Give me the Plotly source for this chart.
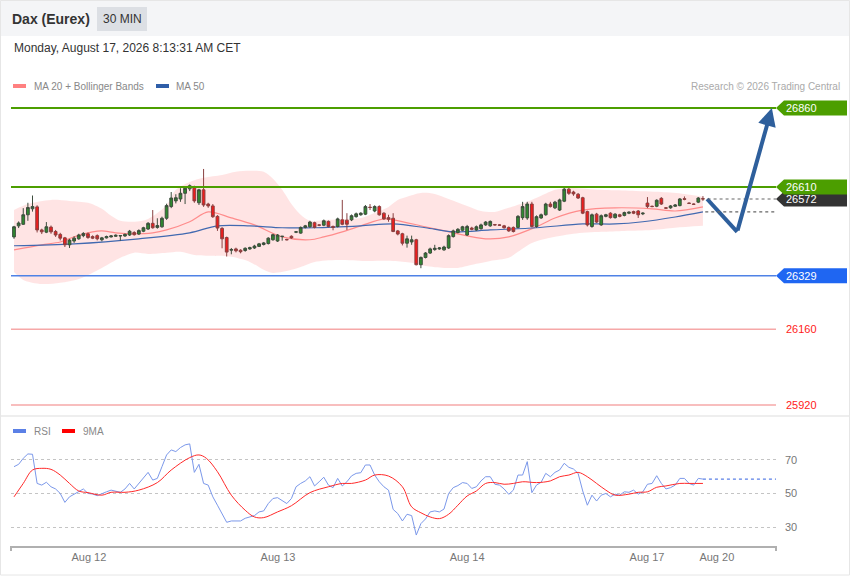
import plotly.graph_objects as go

# --- candles (30 min) ---
opens = [
    26452, 26487, 26492, 26522, 26541, 26547, 26474, 26467, 26483, 26469,
    26460, 26449, 26427, 26439, 26446, 26456, 26462, 26453, 26456, 26443,
    26449, 26452, 26454, 26455, 26455, 26458, 26466, 26461, 26470, 26477,
    26495, 26482, 26484, 26511, 26548, 26566, 26572, 26590, 26604, 26608,
    26560, 26601, 26556, 26550, 26517, 26479, 26450, 26410, 26414, 26410,
    26409, 26414, 26417, 26422, 26428, 26431, 26443, 26439, 26453, 26444,
    26454, 26467, 26464, 26482, 26484, 26497, 26490, 26489, 26501, 26485,
    26485, 26506, 26505, 26506, 26516, 26522, 26524, 26546, 26534, 26548,
    26527, 26513, 26511, 26471, 26462, 26432, 26436, 26443, 26364, 26387,
    26401, 26412, 26414, 26411, 26417, 26453, 26466, 26473, 26458, 26480,
    26474, 26478, 26490, 26487, 26491, 26490, 26487, 26482, 26482, 26482,
    26513, 26512, 26556, 26485, 26512, 26522, 26556, 26544, 26537, 26565,
    26603, 26594, 26587, 26576, 26532, 26485, 26524, 26490, 26517, 26527,
    26513, 26522, 26520, 26527, 26532, 26534, 26525, 26559, 26549, 26549,
    26574, 26544, 26544, 26549, 26551, 26573, 26559, 26556, 26562, 26573,
]
highs = [
    26487, 26501, 26543, 26560, 26583, 26552, 26478, 26499, 26488, 26474,
    26465, 26452, 26446, 26454, 26462, 26467, 26466, 26457, 26460, 26452,
    26456, 26458, 26460, 26457, 26463, 26474, 26470, 26476, 26484, 26499,
    26537, 26511, 26516, 26557, 26594, 26587, 26606, 26611, 26618, 26614,
    26604, 26667, 26560, 26556, 26521, 26483, 26453, 26417, 26418, 26413,
    26419, 26421, 26427, 26433, 26436, 26451, 26462, 26461, 26455, 26446,
    26457, 26470, 26485, 26490, 26503, 26500, 26492, 26507, 26504, 26488,
    26513, 26569, 26527, 26523, 26529, 26530, 26553, 26556, 26552, 26552,
    26530, 26522, 26527, 26474, 26465, 26456, 26456, 26446, 26390, 26404,
    26418, 26427, 26420, 26424, 26460, 26475, 26480, 26487, 26490, 26484,
    26488, 26494, 26502, 26504, 26493, 26492, 26490, 26485, 26485, 26521,
    26563, 26563, 26563, 26520, 26526, 26560, 26563, 26566, 26573, 26611,
    26608, 26598, 26591, 26579, 26535, 26526, 26528, 26523, 26525, 26530,
    26527, 26525, 26532, 26533, 26535, 26537, 26530, 26578, 26551, 26571,
    26578, 26546, 26553, 26556, 26575, 26580, 26561, 26558, 26578, 26581,
]
lows = [
    26446, 26480, 26490, 26503, 26532, 26466, 26461, 26464, 26462, 26452,
    26441, 26420, 26417, 26433, 26443, 26451, 26446, 26445, 26441, 26438,
    26447, 26450, 26452, 26440, 26452, 26455, 26456, 26458, 26467, 26474,
    26478, 26478, 26481, 26506, 26543, 26558, 26563, 26556, 26597, 26560,
    26553, 26547, 26544, 26512, 26471, 26416, 26390, 26397, 26403, 26400,
    26405, 26411, 26414, 26420, 26425, 26428, 26440, 26436, 26440, 26441,
    26446, 26464, 26462, 26479, 26481, 26479, 26486, 26486, 26482, 26473,
    26482, 26489, 26474, 26502, 26513, 26519, 26521, 26537, 26530, 26519,
    26506, 26500, 26467, 26457, 26425, 26418, 26427, 26362, 26353, 26384,
    26398, 26408, 26411, 26408, 26414, 26450, 26463, 26470, 26455, 26473,
    26471, 26475, 26487, 26484, 26488, 26487, 26478, 26468, 26466, 26479,
    26506, 26506, 26482, 26481, 26509, 26519, 26545, 26540, 26534, 26562,
    26585, 26582, 26572, 26524, 26485, 26481, 26496, 26487, 26514, 26510,
    26510, 26514, 26517, 26524, 26524, 26512, 26521, 26543, 26546, 26546,
    26553, 26541, 26541, 26547, 26549, 26568, 26556, 26553, 26559, 26566,
]
closes = [
    26484, 26496, 26522, 26545, 26548, 26474, 26468, 26484, 26468, 26458,
    26448, 26427, 26442, 26448, 26458, 26463, 26450, 26448, 26446, 26449,
    26453, 26455, 26457, 26456, 26460, 26470, 26459, 26472, 26481, 26495,
    26481, 26488, 26511, 26551, 26575, 26576, 26590, 26606, 26614, 26566,
    26601, 26553, 26550, 26516, 26480, 26446, 26404, 26412, 26408, 26405,
    26416, 26418, 26423, 26430, 26433, 26448, 26459, 26458, 26454, 26443,
    26449, 26468, 26482, 26487, 26499, 26482, 26489, 26503, 26485, 26482,
    26509, 26492, 26492, 26519, 26525, 26527, 26548, 26545, 26548, 26522,
    26509, 26508, 26469, 26461, 26432, 26446, 26443, 26364, 26387, 26401,
    26414, 26416, 26417, 26420, 26456, 26471, 26476, 26484, 26485, 26476,
    26484, 26490, 26499, 26501, 26490, 26489, 26481, 26471, 26469, 26517,
    26548, 26556, 26485, 26516, 26522, 26556, 26548, 26562, 26569, 26603,
    26590, 26588, 26575, 26527, 26490, 26522, 26499, 26519, 26522, 26513,
    26524, 26517, 26529, 26530, 26527, 26522, 26527, 26548, 26548, 26568,
    26556, 26543, 26550, 26553, 26572, 26571, 26558, 26555, 26575, 26572,
]
candle_idx = list(range(len(closes)))

# --- Bollinger bands / moving averages (read at sample candles) ---
upper_idx = [0, 3, 8, 12, 16, 19, 21, 23, 26, 29, 33, 35, 38, 41, 45, 48, 51, 54, 56, 58,
             60, 62, 64, 68, 72, 75, 78, 81, 83, 85, 88, 91, 94, 98, 101, 104, 107, 111, 114, 117,
             120, 127, 133, 140, 145, 149]
upper_band = [26537, 26556, 26569, 26566, 26560, 26541, 26519, 26503, 26500, 26509,
              26553, 26601, 26626, 26639, 26648, 26658, 26661, 26658, 26636, 26601,
              26556, 26522, 26503, 26506, 26509, 26512, 26528, 26547, 26569, 26579,
              26591, 26588, 26572, 26550, 26534, 26531, 26544, 26563, 26582, 26601,
              26607, 26601, 26598, 26594, 26588, 26579]
lower_idx = [0, 2, 6, 10, 14, 19, 23, 26, 29, 33, 36, 39, 43, 47, 51, 54, 56, 60, 62, 65,
             70, 76, 82, 86, 89, 93, 96, 100, 103, 107, 109, 112, 115, 118, 121, 127, 132, 138, 143, 149]
lower_band = [26341, 26316, 26303, 26307, 26319, 26354, 26386, 26402, 26398, 26402,
              26405, 26395, 26392, 26389, 26373, 26348, 26338, 26348, 26357, 26373,
              26379, 26376, 26376, 26370, 26360, 26354, 26354, 26367, 26376, 26386,
              26405, 26433, 26446, 26455, 26462, 26468, 26471, 26474, 26481, 26487]
ma20_idx = [0, 6, 10, 13, 17, 19, 22, 26, 30, 33, 38, 42, 47, 52, 58, 64, 67, 71, 75, 80,
            82, 89, 95, 102, 107, 113, 117, 123, 130, 138, 143, 149]
ma20 = [26411, 26427, 26436, 26452, 26468, 26471, 26465, 26462, 26465, 26474,
        26500, 26531, 26512, 26490, 26452, 26443, 26452, 26468, 26487, 26509,
        26506, 26484, 26465, 26446, 26452, 26484, 26512, 26537, 26544, 26541,
        26534, 26547]
ma50_idx = [0, 13, 27, 38, 44, 51, 58, 65, 75, 82, 89, 95, 103, 113, 123, 130, 136, 143, 149]
ma50 = [26424, 26430, 26446, 26465, 26487, 26487, 26481, 26481, 26487, 26493,
        26481, 26468, 26474, 26481, 26493, 26493, 26500, 26515, 26531]

# --- RSI ---
rsi = [
    66, 67.4, 71, 73.6, 73.4, 56, 55, 56.7, 54, 52.7,
    50, 44.7, 48, 49.5, 51.5, 52.7, 50, 49.7, 48.7, 50,
    51, 52, 51.5, 50.7, 52.7, 56, 52.7, 56, 58.7, 62.6,
    58, 59, 66, 73, 76, 75, 77.4, 79, 79.6, 62.6,
    67.4, 56, 55, 48, 43, 38, 32.8, 33.6, 33.6, 33.6,
    35.2, 36, 36.8, 39, 39.6, 44, 47, 47.5, 46, 44,
    47, 54, 56, 57.5, 60, 54.5, 57, 59.7, 55, 53.5,
    59, 54.5, 57, 60.5, 62, 62.4, 67, 67, 61, 57,
    54, 52, 40.5, 38, 33.6, 37.6, 36.8, 25.2, 32, 34.8,
    39, 39.6, 39, 40.7, 50, 53.5, 54.7, 56.5, 56, 53,
    54, 57.5, 60, 60, 55.5, 55, 52.7, 49.5, 52, 61,
    61, 69, 50.5, 55, 56.7, 62, 60, 62.6, 64, 68,
    65.6, 64.6, 62, 51.5, 43, 49, 45.5, 49, 50, 48,
    49.6, 49, 51, 50.7, 52, 49.6, 51, 55.5, 56, 60.6,
    56, 52.7, 53.5, 55, 59, 59, 56, 55, 59, 58.6,
]
rsi_ma_idx = [0, 2, 4, 6, 8, 10, 12, 14, 16, 19, 21, 24, 27, 31, 34, 38, 40, 41.6, 44, 47,
              50, 52, 54, 57, 60, 64, 68, 71, 73, 76, 78, 81, 84, 86, 88, 90, 92, 94, 96, 98,
              100, 102, 104, 106, 108, 110, 113, 116, 118, 120, 122, 124, 126, 128, 130, 133,
              135, 137, 139, 141, 144, 146, 149]
rsi_ma = [48, 56, 64, 65, 64.4, 61, 56, 51.5, 50.5, 49, 50.7, 50.7, 52, 56.5, 64, 71.4, 73, 71, 63, 49,
          40, 36, 35.6, 39, 42.7, 50.5, 54, 56, 56, 58, 61, 60.4, 54, 42, 38.5, 36, 35, 37.6, 43, 48.5,
          51.5, 56, 56.5, 55.5, 56, 57, 56.5, 57.5, 60, 61, 62.6, 60, 56, 52, 49, 49.6,
          50.7, 51, 53.7, 54.5, 56, 56, 56]

# --- levels, projection, time axis ---
resistances = [26860, 26610]
support = 26329
far_supports = [26160, 25920]
proj_idx = [149.9, 156.4, 163.9]
proj_price = [26572, 26468, 26860]
tick_idx = [16.2, 57.1, 98.0, 136.9, 152.0]
tick_labels = ["Aug 12", "Aug 13", "Aug 14", "Aug 17", "Aug 20"]

W, H = 850, 576
FONT = "Liberation Sans, Arial, sans-serif"
X_RANGE = [-0.65, 164.8]
Y_RANGE = [25898, 26901]


def px(x):
    return x / W


def py(y):
    return 1 - y / H


fig = go.Figure()

# bollinger band fill + moving averages (base subplot, drawn under the candles)
fig.add_trace(go.Scatter(x=upper_idx, y=upper_band, mode="lines",
                         line=dict(color="rgba(0,0,0,0)", shape="spline", smoothing=0.8),
                         hoverinfo="skip", showlegend=False))
fig.add_trace(go.Scatter(x=lower_idx, y=lower_band, mode="lines", fill="tonexty",
                         fillcolor="rgba(255,205,205,0.55)",
                         line=dict(color="rgba(0,0,0,0)", shape="spline", smoothing=0.8),
                         hoverinfo="skip", showlegend=False))
fig.add_trace(go.Scatter(x=ma20_idx, y=ma20, mode="lines",
                         line=dict(color="#ff8c8c", width=1.2, shape="spline", smoothing=0.9),
                         hoverinfo="skip", showlegend=False))
fig.add_trace(go.Scatter(x=ma50_idx, y=ma50, mode="lines",
                         line=dict(color="#4169b0", width=1.2, shape="spline", smoothing=0.9),
                         hoverinfo="skip", showlegend=False))

# candles on an overlaying subplot so they sit above the band
fig.add_trace(go.Candlestick(
    x=candle_idx, open=opens, high=highs, low=lows, close=closes,
    xaxis="x3", yaxis="y3",
    increasing=dict(fillcolor="#2f8a2f", line=dict(color="#3d4d3d", width=1)),
    decreasing=dict(fillcolor="#ee1c1c", line=dict(color="#8a4040", width=1)),
    whiskerwidth=0, hoverinfo="skip", showlegend=False))

# projection
fig.add_trace(go.Scatter(x=proj_idx[:2], y=proj_price[:2], mode="lines", xaxis="x3", yaxis="y3",
                         line=dict(color="#2e5f9c", width=4),
                         hoverinfo="skip", showlegend=False))

# RSI panel
fig.add_trace(go.Scatter(x=candle_idx, y=rsi, mode="lines", xaxis="x2", yaxis="y2",
                         line=dict(color="#7b98ea", width=1),
                         hoverinfo="skip", showlegend=False))
fig.add_trace(go.Scatter(x=rsi_ma_idx, y=rsi_ma, mode="lines", xaxis="x2", yaxis="y2",
                         line=dict(color="#ff2a2a", width=1, shape="spline", smoothing=1.0),
                         hoverinfo="skip", showlegend=False))

shapes = []
# frame, header, separator
shapes.append(dict(type="rect", xref="paper", yref="paper", x0=0, x1=1, y0=py(36), y1=1,
                   fillcolor="#f4f5f7", line_width=0, layer="below"))
shapes.append(dict(type="rect", xref="paper", yref="paper", x0=px(97), x1=px(147), y0=py(31), y1=py(7),
                   fillcolor="#dcdfe4", line_width=0, layer="below"))
shapes.append(dict(type="line", xref="paper", yref="paper", x0=0, x1=1, y0=py(416), y1=py(416),
                   line=dict(color="#e8e8e8", width=1.5)))
shapes.append(dict(type="rect", xref="paper", yref="paper", x0=px(0.5), x1=px(849.5), y0=py(575), y1=py(0.5),
                   line=dict(color="#e6e6e6", width=1)))

# legend swatches
for x0, col, y in [(13, "#ff8080", 86), (156, "#2f5ea8", 86), (13, "#5b80e6", 431), (62, "#ff0000", 431)]:
    shapes.append(dict(type="rect", xref="paper", yref="paper", x0=px(x0), x1=px(x0 + 13),
                       y0=py(y + 2), y1=py(y - 2), fillcolor=col, line_width=0))

# level lines
for lvl in resistances:
    shapes.append(dict(type="line", xref="paper", yref="y", x0=px(11), x1=px(776), y0=lvl, y1=lvl,
                       line=dict(color="#4c9e00", width=2)))
shapes.append(dict(type="line", xref="paper", yref="y", x0=px(11), x1=px(776), y0=support, y1=support,
                   line=dict(color="#4f82e6", width=1.5)))
for lvl in far_supports:
    shapes.append(dict(type="line", xref="paper", yref="y", x0=px(11), x1=px(776), y0=lvl, y1=lvl,
                       line=dict(color="#f6a8a8", width=1.5)))

# last-value dotted guides
shapes.append(dict(type="line", xref="x", yref="y", x0=candle_idx[-1] + 1, x1=X_RANGE[1],
                   y0=closes[-1], y1=closes[-1], line=dict(color="#666666", width=1.2, dash="dot")))
shapes.append(dict(type="line", xref="x", yref="y", x0=candle_idx[-1] + 0.5, x1=X_RANGE[1],
                   y0=ma50[-1], y1=ma50[-1], line=dict(color="#666666", width=1.2, dash="dot")))
shapes.append(dict(type="line", xref="x2", yref="y2", x0=candle_idx[-1], x1=X_RANGE[1],
                   y0=rsi[-1], y1=rsi[-1], line=dict(color="#5b80e6", width=1.2, dash="dot")))

# axis end ticks
for xe in (11, 776):
    shapes.append(dict(type="line", xref="paper", yref="paper", x0=px(xe), x1=px(xe), y0=py(546), y1=py(551),
                       line=dict(color="#b0b0b0", width=2)))

# price tags
tag_path = "M 0 0 L 8 7.5 L 71 7.5 L 71 -7.5 L 8 -7.5 Z"
tags = [(closes[-1], "#333333"), (resistances[1], "#4c9e00"), (resistances[0], "#4c9e00"), (support, "#1f66f2")]
for price, col in tags:
    shapes.append(dict(type="path", xref="paper", yref="y", xsizemode="pixel", ysizemode="pixel",
                       xanchor=px(776), yanchor=price, path=tag_path, fillcolor=col, line_width=0))

annotations = [
    dict(text="<b>Dax (Eurex)</b>", x=px(10), y=py(19), font=dict(size=14, color="#333333")),
    dict(text="30 MIN", x=px(122), y=py(19), xanchor="center", font=dict(size=12, color="#333333")),
    dict(text="Monday, August 17, 2026 8:13:31 AM CET", x=px(12), y=py(48), font=dict(size=12, color="#333333")),
    dict(text="MA 20 + Bollinger Bands", x=px(32), y=py(86), font=dict(size=10, color="#888888")),
    dict(text="MA 50", x=px(174), y=py(86), font=dict(size=10, color="#888888")),
    dict(text="Research © 2026 Trading Central", x=px(842), y=py(86), xanchor="right",
         font=dict(size=10, color="#aaaaaa")),
    dict(text="RSI", x=px(32), y=py(431), font=dict(size=10, color="#888888")),
    dict(text="9MA", x=px(81), y=py(431), font=dict(size=10, color="#888888")),
]
for a in annotations:
    a.setdefault("xanchor", "left")
    a.update(xref="paper", yref="paper", yanchor="middle", showarrow=False)
    a["font"]["family"] = FONT

for price, col in tags:
    annotations.append(dict(text=str(price), xref="paper", yref="y", x=px(784), y=price,
                            xanchor="left", yanchor="middle", showarrow=False,
                            font=dict(size=11, color="white", family=FONT)))
for lvl in far_supports:
    annotations.append(dict(text=str(lvl), xref="paper", yref="y", x=px(784), y=lvl,
                            xanchor="left", yanchor="middle", showarrow=False,
                            font=dict(size=11, color="#ff1a1a", family=FONT)))

# projection arrow head segment
annotations.append(dict(x=proj_idx[2], y=proj_price[2], ax=proj_idx[1], ay=proj_price[1],
                        xref="x", yref="y", axref="x", ayref="y", text="", showarrow=True,
                        arrowhead=2, arrowsize=0.9, arrowwidth=4, arrowcolor="#2e5f9c"))

fig.update_layout(
    width=W, height=H,
    margin=dict(l=0, r=0, t=0, b=0),
    paper_bgcolor="white", plot_bgcolor="rgba(0,0,0,0)",
    font=dict(family=FONT),
    showlegend=False,
    boxgap=0.15,
    shapes=shapes,
    annotations=annotations,
    xaxis=dict(domain=[px(11), px(776)], range=X_RANGE, visible=False, fixedrange=True),
    yaxis=dict(domain=[py(412), py(95)], range=Y_RANGE, visible=False, fixedrange=True),
    xaxis3=dict(overlaying="x", range=X_RANGE, visible=False,
                rangeslider=dict(visible=False), fixedrange=True),
    yaxis3=dict(overlaying="y", range=Y_RANGE, visible=False, fixedrange=True),
    xaxis2=dict(domain=[px(11), px(776)], range=X_RANGE, anchor="y2",
                showline=True, linecolor="#b0b0b0", linewidth=2, showgrid=False, zeroline=False,
                tickvals=tick_idx, ticktext=tick_labels, ticks="",
                tickfont=dict(size=11, color="#777777"), fixedrange=True),
    yaxis2=dict(domain=[py(546), py(436)], range=[18.66, 84.3], anchor="x2", side="right",
                tickvals=[30, 50, 70], showgrid=True, gridcolor="#c4c4c4", griddash="dot",
                zeroline=False, showline=False, ticks="", ticklabelstandoff=8,
                tickfont=dict(size=11, color="#777777"), fixedrange=True),
)

fig.write_html("out.html", config=dict(displayModeBar=False),
               post_script="document.body.style.margin='0';")
